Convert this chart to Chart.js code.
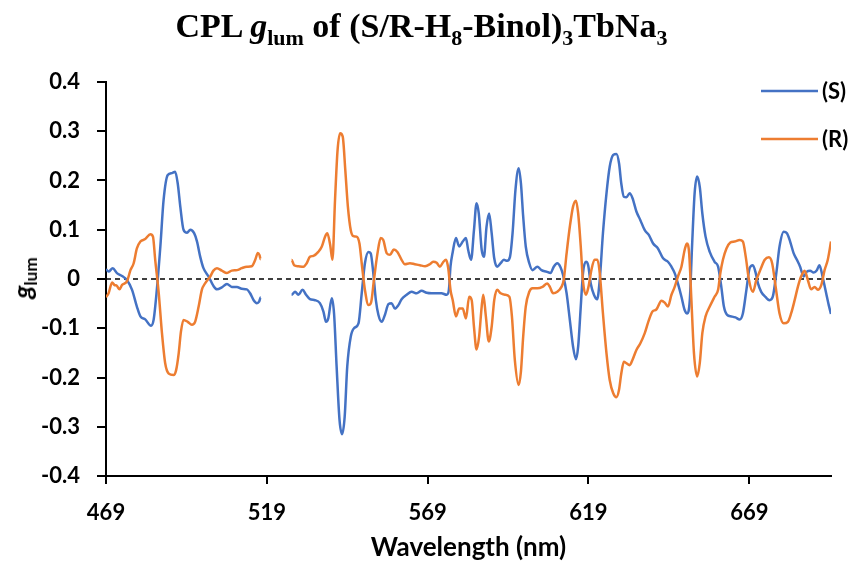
<!DOCTYPE html>
<html>
<head>
<meta charset="utf-8">
<script src="https://cdn.jsdelivr.net/npm/chart.js@4.4.1/dist/chart.umd.min.js"></script>
<style>
  html, body { margin: 0; padding: 0; background: #fff; }
  #wrap { position: relative; width: 853px; height: 566px; }
  #title {
    position: absolute; left: 0; top: 9px; width: 843px; text-align: center;
    font: bold 34px "Liberation Serif", "Times New Roman", serif; line-height: 34px; color: #000;
  }
  #title sub { font-size: 22px; vertical-align: -8px; line-height: 0; }
  #ytitle {
    position: absolute; left: 22px; top: 278px; transform: translate(-50%, -50%) rotate(-90deg);
    font: bold italic 26px Lato, sans-serif; white-space: nowrap; color: #000; line-height: 26px;
  }
  #ytitle sub { font-style: normal; font-size: 17px; vertical-align: -5px; line-height: 0; }
</style>
</head>
<body>
<div id="wrap">
  <canvas id="cplChart" width="853" height="566"></canvas>
  <div id="title">CPL <i>g</i><sub>lum</sub> of (S/R-H<sub>8</sub>-Binol)<sub>3</sub>TbNa<sub>3</sub></div>
  <div id="ytitle">g<sub>lum</sub></div>
</div>
<script>
// axis setup
const xTicks = [469, 519, 569, 619, 669];
const xMin = 469;
const xMax = 694.4;
const yMin = -0.4;
const yMax = 0.4;
const yStep = 0.1;

// (S) series
const sWavelength = [
  469.0, 469.8, 471.1, 472.4, 474.0, 475.5, 477.1, 478.6, 479.7, 481.2,
  483.0, 483.8, 484.8, 485.9, 486.9, 488.2, 489.5, 490.5, 491.3, 492.1,
  493.1, 494.2, 495.2, 496.4, 497.3, 498.3, 499.3, 500.9, 502.4, 503.5,
  505.0, 506.6, 508.1, 509.7, 511.2, 512.8, 513.8, 514.9, 515.9, 516.6, 517.1,
  526.7, 527.8, 528.8, 530.1, 531.2, 532.4, 534.0, 535.5, 536.6, 537.4,
  538.1, 539.2, 539.9, 540.7, 541.6, 542.4, 543.2, 544.0, 545.1, 546.1,
  547.5, 548.5, 549.5, 550.6, 551.3, 552.1, 552.9, 553.7, 554.7, 555.7,
  556.8, 557.8, 558.8, 559.9, 560.9, 562.5, 564.0, 565.6, 567.1, 568.7,
  570.2, 571.8, 573.3, 574.9, 575.6, 576.1,
  576.8, 577.8, 578.8, 579.9, 580.9, 581.6, 582.5, 583.4, 584.2, 584.9,
  585.8, 586.5, 587.3, 588.1, 588.9, 589.7, 590.6, 591.7, 592.7, 593.7,
  594.6, 595.4, 596.3, 597.3, 598.0, 598.7, 599.5, 600.6, 601.6, 603.1,
  604.4, 605.9, 607.2, 608.2, 609.3, 610.3, 611.1, 612.2, 613.2, 614.2,
  615.1, 615.8, 616.6, 617.3, 618.2, 618.9, 619.7, 620.7, 621.7, 622.5,
  623.5, 624.6, 625.6, 626.7, 627.7, 628.5, 629.2, 630.0, 630.8, 631.8,
  632.7, 633.9, 635.1, 636.5, 637.8,
  639.1, 640.6, 642.2, 643.7, 644.8, 645.8, 646.8, 647.9, 648.9, 649.7,
  650.5, 651.2, 652.0, 652.8, 653.6, 654.4, 655.4, 656.7, 658.2, 659.3,
  660.3, 661.1, 662.1, 663.4, 664.7, 666.0, 667.0, 668.1, 669.1, 670.1,
  671.0, 671.7, 672.7, 674.1, 675.3, 676.3, 677.4, 678.4, 679.7, 680.7,
  681.7, 682.8, 683.8, 684.8, 685.9, 686.9, 687.9, 689.0, 690.0, 690.8,
  691.9, 692.9, 693.7, 694.4
];
const sGlum = [
  0.020, 0.015, 0.022, 0.012, 0.006, -0.002, -0.022, -0.056, -0.076, -0.082,
  -0.095, -0.083, -0.022, 0.066, 0.160, 0.211, 0.215, 0.218, 0.194, 0.147,
  0.100, 0.094, 0.100, 0.093, 0.076, 0.045, 0.022, 0.005, -0.014, -0.021,
  -0.017, -0.010, -0.016, -0.016, -0.020, -0.021, -0.029, -0.043, -0.049, -0.046, -0.037,
  -0.032, -0.026, -0.032, -0.022, -0.032, -0.041, -0.043, -0.049, -0.066, -0.087,
  -0.080, -0.039, -0.070, -0.178, -0.286, -0.315, -0.280, -0.178, -0.117, -0.100,
  -0.090, -0.029, 0.032, 0.055, 0.052, 0.012, -0.043, -0.073, -0.087, -0.073,
  -0.051, -0.049, -0.060, -0.053, -0.041, -0.032, -0.026, -0.029, -0.024, -0.028,
  -0.029, -0.029, -0.029, -0.032, -0.022, 0.025,
  0.055, 0.083, 0.066, 0.076, 0.083, 0.059, 0.039, 0.099, 0.154, 0.133,
  0.059, 0.045, 0.106, 0.133, 0.093, 0.042, 0.025, 0.032, 0.039, 0.037,
  0.045, 0.093, 0.181, 0.225, 0.194, 0.127, 0.066, 0.032, 0.018, 0.025,
  0.018, 0.015, 0.012, 0.025, 0.032, 0.024, 0.008, -0.029, -0.083, -0.137,
  -0.163, -0.137, -0.056, 0.012, 0.035, 0.028, -0.009, -0.032, -0.041, -0.002,
  0.093, 0.174, 0.228, 0.252, 0.254, 0.235, 0.194, 0.167, 0.166, 0.174,
  0.164, 0.137, 0.120, 0.099, 0.089,
  0.072, 0.062, 0.042, 0.035, 0.025, 0.012, -0.009, -0.036, -0.063, -0.070,
  -0.043, 0.066, 0.174, 0.208, 0.187, 0.133, 0.086, 0.055, 0.035, 0.025,
  -0.016, -0.056, -0.073, -0.076, -0.078, -0.082, -0.070, -0.022, 0.022, 0.028,
  0.012, -0.009, -0.026, -0.037, -0.043, -0.036, 0.012, 0.066, 0.096, 0.093,
  0.076, 0.052, 0.039, 0.025, 0.005, 0.015, 0.017, 0.013, 0.018, 0.028,
  0.001, -0.029, -0.053, -0.071
];

// (R) series
const rWavelength = [
  469.0, 469.8, 470.9, 471.6, 472.4, 473.2, 474.0, 475.5, 476.6, 477.6,
  478.6, 479.7, 481.2, 482.8, 483.6, 484.3, 485.4, 486.4, 487.4, 488.5,
  490.0, 490.8, 491.6, 492.3, 493.1, 494.4, 495.7, 496.7, 497.8, 498.8,
  499.8, 501.4, 502.4, 503.5, 505.0, 506.6, 508.1, 509.7, 511.2, 512.8,
  514.3, 515.4, 516.2, 516.7, 517.1,
  526.7, 527.5, 528.8, 530.4, 531.4, 532.4, 533.5, 535.0, 536.1, 537.1,
  537.8, 538.7, 539.4, 540.2, 541.0, 541.8, 542.6, 543.4, 544.2, 545.1,
  545.9, 546.9, 547.8, 548.5, 549.5, 550.6, 551.4, 552.3, 553.4, 554.4,
  555.2, 556.3, 557.3, 558.5, 559.6, 560.9, 561.9, 563.5, 565.0, 566.6,
  568.2, 569.7, 570.7, 571.8, 572.8, 573.9, 574.7, 575.4, 576.1,
  576.8, 577.8, 578.8, 579.9, 580.9, 581.9, 582.7, 583.4, 584.2, 585.0,
  585.8, 586.3, 587.1, 588.0, 588.9, 589.7, 590.6, 591.7, 593.0, 594.4,
  595.2, 596.1, 597.3, 598.0, 598.7, 599.5, 600.6, 601.6, 603.1, 604.7,
  606.2, 607.0, 608.0, 609.3, 610.6, 611.3, 612.2, 613.2, 614.2, 615.1,
  615.8, 616.6, 617.3, 618.2, 619.0, 619.9, 620.9, 621.8, 622.5, 623.5,
  624.6, 625.6, 626.7, 627.7, 628.5, 629.2, 630.0, 630.8, 631.8, 632.7,
  633.9, 635.1, 636.5, 637.8,
  638.9, 640.1, 641.7, 642.7, 643.7, 644.8, 645.8, 646.8, 647.9, 648.9,
  649.6, 650.3, 651.0, 651.8, 652.8, 653.6, 654.4, 655.4, 656.7, 658.2,
  659.3, 660.0, 660.8, 661.9, 663.1, 664.4, 666.0, 667.0, 667.9, 668.9,
  670.1, 671.2, 672.4, 673.8, 675.1, 676.1, 677.2, 678.4, 679.7, 681.0,
  682.0, 683.1, 684.1, 685.1, 686.2, 687.2, 688.2, 689.3, 690.3, 691.4,
  692.4, 693.4, 694.4
];
const rGlum = [
  -0.037, -0.029, -0.007, -0.012, -0.014, -0.021, -0.012, -0.005, 0.018, 0.032,
  0.062, 0.076, 0.081, 0.091, 0.086, 0.039, -0.029, -0.110, -0.171, -0.192,
  -0.195, -0.185, -0.151, -0.107, -0.083, -0.087, -0.093, -0.087, -0.056, -0.022,
  -0.009, 0.005, 0.017, 0.022, 0.017, 0.012, 0.017, 0.018, 0.022, 0.025,
  0.026, 0.039, 0.053, 0.049, 0.040,
  0.039, 0.028, 0.026, 0.025, 0.032, 0.045, 0.047, 0.055, 0.066, 0.086,
  0.093, 0.069, 0.039, 0.160, 0.262, 0.296, 0.289, 0.221, 0.147, 0.099,
  0.087, 0.086, 0.072, 0.032, -0.022, -0.053, -0.048, -0.002, 0.052, 0.083,
  0.079, 0.052, 0.049, 0.060, 0.055, 0.039, 0.030, 0.032, 0.030, 0.028,
  0.026, 0.030, 0.035, 0.033, 0.025, 0.035, 0.039, 0.022, -0.022,
  -0.043, -0.076, -0.060, -0.060, -0.080, -0.036, -0.043, -0.097, -0.143, -0.117,
  -0.056, -0.032, -0.076, -0.127, -0.097, -0.043, -0.022, -0.029, -0.032, -0.036,
  -0.076, -0.164, -0.215, -0.188, -0.117, -0.056, -0.026, -0.019, -0.019, -0.016,
  -0.009, -0.016, -0.029, -0.026, -0.016, -0.002, 0.052, 0.106, 0.147, 0.159,
  0.133, 0.066, -0.005, -0.032, -0.016, 0.018, 0.039, 0.039, 0.012, -0.070,
  -0.151, -0.205, -0.232, -0.240, -0.225, -0.192, -0.168, -0.171, -0.175, -0.164,
  -0.144, -0.131, -0.110, -0.083,
  -0.066, -0.062, -0.044, -0.048, -0.056, -0.032, -0.016, 0.005, 0.025, 0.059,
  0.072, 0.052, -0.043, -0.151, -0.198, -0.171, -0.110, -0.076, -0.056, -0.036,
  -0.022, 0.012, 0.039, 0.062, 0.074, 0.076, 0.079, 0.076, 0.045, -0.002,
  -0.026, -0.002, 0.018, 0.039, 0.044, 0.032, -0.016, -0.070, -0.090, -0.087,
  -0.070, -0.043, -0.016, 0.005, 0.017, -0.002, -0.021, -0.016, -0.022, -0.012,
  0.018, 0.039, 0.076
];

const toPoints = (xs, ys) => xs.map((x, i) => ({ x: x, y: ys[i] }));

// legend drawn in the top right corner of the plot
const cornerLegend = {
  id: 'cornerLegend',
  afterDraw(chart) {
    const ctx = chart.ctx;
    const sets = chart.data.datasets.filter(d => !d.hideInLegend);
    ctx.save();
    ctx.font = 'bold 22px Lato';
    ctx.textBaseline = 'middle';
    ctx.textAlign = 'left';
    sets.forEach((d, i) => {
      const y = 91 + i * 48;
      ctx.strokeStyle = d.borderColor;
      ctx.lineWidth = 2.5;
      ctx.beginPath();
      ctx.moveTo(761, y);
      ctx.lineTo(818, y);
      ctx.stroke();
      ctx.fillStyle = '#000';
      ctx.fillText(d.label, 822, y + 1);
    });
    ctx.restore();
  }
};

const ctx = document.getElementById('cplChart').getContext('2d');
const cplChart = new Chart(ctx, {
  type: 'line',
  data: {
    datasets: [
      {
        label: '(S)',
        data: toPoints(sWavelength, sGlum),
        borderColor: '#4472C4',
        borderWidth: 2.5,
        pointRadius: 0,
        cubicInterpolationMode: 'monotone',
        spanGaps: 4,
        order: 2
      },
      {
        label: '(R)',
        data: toPoints(rWavelength, rGlum),
        borderColor: '#ED7D31',
        borderWidth: 2.5,
        pointRadius: 0,
        cubicInterpolationMode: 'monotone',
        spanGaps: 4,
        order: 1
      },
      {
        label: 'zero',
        hideInLegend: true,
        data: [{ x: xMin, y: 0 }, { x: xMax, y: 0 }],
        borderColor: '#000',
        borderWidth: 1.3,
        borderDash: [5, 4],
        pointRadius: 0,
        order: 3
      }
    ]
  },
  options: {
    responsive: false,
    animation: false,
    layout: { padding: { top: 82, right: 22, left: 30, bottom: 0 } },
    plugins: {
      legend: { display: false },
      tooltip: { enabled: false },
      title: { display: false }
    },
    scales: {
      x: {
        type: 'linear',
        min: xMin,
        max: xMax,
        afterBuildTicks: scale => { scale.ticks = xTicks.map(v => ({ value: v })); },
        afterFit: scale => { scale.height = 90; },
        grid: { drawOnChartArea: false, drawTicks: true, tickLength: 8, color: '#000', lineWidth: 2 },
        border: { display: true, color: '#000', width: 2 },
        ticks: {
          autoSkip: false, maxRotation: 0, padding: 16, color: '#000',
          font: { family: 'Lato', weight: 'bold', size: 22 },
          callback: v => String(v)
        },
        title: {
          display: true, text: 'Wavelength (nm)', color: '#000',
          font: { family: 'Lato', weight: 'bold', size: 26 },
          padding: { top: 0, bottom: 3 }
        }
      },
      y: {
        min: yMin,
        max: yMax,
        afterFit: scale => { scale.width = 76; },
        grid: { drawOnChartArea: false, drawTicks: true, tickLength: 9, color: '#000', lineWidth: 2 },
        border: { display: true, color: '#000', width: 2 },
        ticks: {
          stepSize: yStep, padding: 17, color: '#000',
          font: { family: 'Lato', weight: 'bold', size: 22 },
          callback: v => Math.abs(v) < 1e-9 ? '0' : v.toFixed(1)
        }
      }
    }
  },
  plugins: [cornerLegend]
});
</script>
</body>
</html>
